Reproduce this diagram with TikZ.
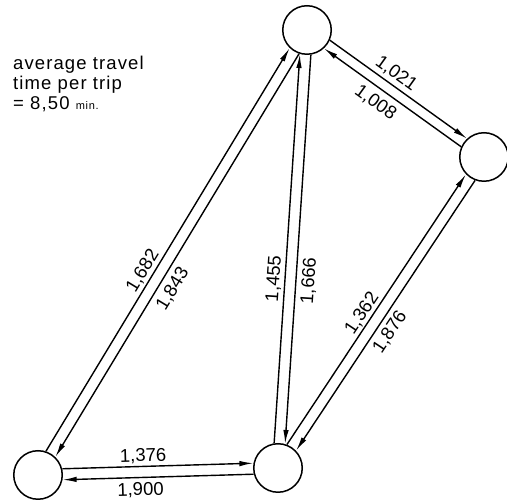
\documentclass[tikz,border=0pt]{standalone}
\usepackage{fontspec}
\setmainfont{Liberation Sans}
\newfontfamily\labfont{Liberation Sans}
\newfontfamily\notefont[LetterSpace=6]{Liberation Sans}
\usetikzlibrary{arrows.meta,calc}
\begin{document}
\begin{tikzpicture}[x=1pt,y=1pt,
  stn/.style={circle,draw,line width=1.5pt,minimum size=48.5pt,inner sep=0pt},
  flow/.style={line width=1.4pt,-{Latex[length=14pt,width=5.5pt]},shorten <=24.5pt,shorten >=24.5pt},
  lab/.style={font=\labfont\fontsize{18.5}{18.5}\selectfont,inner sep=0pt,sloped,anchor=center,text height=13pt,text depth=0pt},
  note/.style={font=\notefont\fontsize{18.5}{20}\selectfont,align=left,inner sep=0pt,anchor=north west}]
\useasboundingbox (0,0) rectangle (507,500);
\node[stn] (L) at (38,25) {};
\node[stn] (B) at (278,32) {};
\node[stn] (T) at (307,470) {};
\node[stn] (R) at (484,343) {};
\node[note] (txt) at (13,444) {average travel\\ time per trip\\ = 8,50 {\fontsize{11}{11}\selectfont min.}};
% L - B
\draw[flow] ($(L)!5.5pt!90:(B)$) -- ($(B)!5.5pt!-90:(L)$);
\draw[flow] ($(B)!5.5pt!90:(L)$) -- ($(L)!5.5pt!-90:(B)$);
\path ($(L)!17pt!90:(B)$) -- node[lab,pos=0.44]{1,376} ($(B)!17pt!-90:(L)$);
\path ($(B)!17pt!90:(L)$) -- node[lab,pos=0.575]{1,900} ($(L)!17pt!-90:(B)$);
% L - T
\draw[flow] ($(L)!5.5pt!90:(T)$) -- ($(T)!5.5pt!-90:(L)$);
\draw[flow] ($(T)!5.5pt!90:(L)$) -- ($(L)!5.5pt!-90:(T)$);
\path ($(L)!17pt!90:(T)$) -- node[lab,pos=0.44]{1,682} ($(T)!17pt!-90:(L)$);
\path ($(T)!18pt!90:(L)$) -- node[lab,pos=0.56]{1,843} ($(L)!18pt!-90:(T)$);
% T - R
\draw[flow] ($(T)!5pt!90:(R)$) -- ($(R)!5pt!-90:(T)$);
\draw[flow] ($(R)!5pt!90:(T)$) -- ($(T)!5pt!-90:(R)$);
\path ($(T)!17.5pt!90:(R)$) -- node[lab,pos=0.45]{1,021} ($(R)!17.5pt!-90:(T)$);
\path ($(R)!18pt!90:(T)$) -- node[lab,pos=0.55]{1,008} ($(T)!18pt!-90:(R)$);
% B - T
\draw[flow] ($(B)!5.5pt!90:(T)$) -- ($(T)!5.5pt!-90:(B)$);
\draw[flow] ($(T)!5.5pt!90:(B)$) -- ($(B)!5.5pt!-90:(T)$);
\path ($(B)!17.5pt!90:(T)$) -- node[lab,pos=0.43]{1,455} ($(T)!17.5pt!-90:(B)$);
\path ($(T)!17.5pt!90:(B)$) -- node[lab,pos=0.57]{1,666} ($(B)!17.5pt!-90:(T)$);
% B - R
\draw[flow] ($(B)!5.5pt!90:(R)$) -- ($(R)!5.5pt!-90:(B)$);
\draw[flow] ($(R)!5.5pt!90:(B)$) -- ($(B)!5.5pt!-90:(R)$);
\path ($(B)!16.5pt!90:(R)$) -- node[lab,pos=0.47]{1,362} ($(R)!16.5pt!-90:(B)$);
\path ($(R)!17pt!90:(B)$) -- node[lab,pos=0.53]{1,876} ($(B)!17pt!-90:(R)$);
\end{tikzpicture}
\end{document}
